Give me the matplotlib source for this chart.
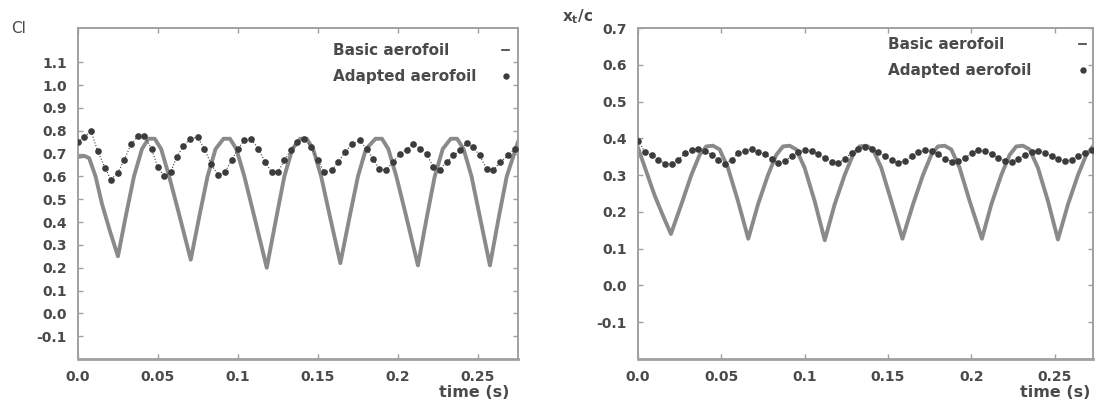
import matplotlib
matplotlib.use("Agg")
import matplotlib.pyplot as plt
from matplotlib.lines import Line2D

# ---------------- data ----------------
# Left panel: lift coefficient Cl
cl_basic_t = [0.000, 0.004, 0.007, 0.011, 0.015, 0.020, 0.025, 0.030, 0.035, 0.040, 0.044, 0.048,
              0.052, 0.057, 0.063, 0.0705, 0.076, 0.081, 0.086, 0.091, 0.095, 0.099, 0.104, 0.110,
              0.118, 0.124, 0.129, 0.134, 0.139, 0.143, 0.147, 0.152, 0.157, 0.164, 0.170, 0.175,
              0.180, 0.186, 0.190, 0.194, 0.199, 0.205, 0.2125, 0.218, 0.223, 0.228, 0.233, 0.237,
              0.241, 0.246, 0.251, 0.2575, 0.263, 0.268, 0.275]
cl_basic_v = [0.685, 0.69, 0.68, 0.60, 0.48, 0.36, 0.25, 0.43, 0.60, 0.72, 0.765, 0.765,
              0.72, 0.60, 0.44, 0.235, 0.43, 0.60, 0.72, 0.765, 0.765, 0.72, 0.60, 0.43,
              0.20, 0.42, 0.60, 0.72, 0.765, 0.765, 0.72, 0.60, 0.44, 0.22, 0.43, 0.60,
              0.72, 0.765, 0.765, 0.72, 0.60, 0.43, 0.21, 0.42, 0.60, 0.72, 0.765, 0.765,
              0.72, 0.60, 0.43, 0.21, 0.42, 0.60, 0.75]

cl_adapt_t = [0.000, 0.004, 0.0081, 0.0123, 0.0169, 0.0206, 0.0248, 0.029, 0.0331, 0.0373, 0.0415,
              0.046, 0.0498, 0.054, 0.058, 0.0617, 0.0658, 0.070, 0.0748, 0.079, 0.0831, 0.0877,
              0.0919, 0.096, 0.100, 0.104, 0.108, 0.1127, 0.117, 0.121, 0.125, 0.129, 0.133,
              0.137, 0.1415, 0.1456, 0.1498, 0.154, 0.1585, 0.1627, 0.1669, 0.1715, 0.176,
              0.1804, 0.1846, 0.188, 0.1923, 0.197, 0.2013, 0.2054, 0.2096, 0.2138, 0.218,
              0.222, 0.226, 0.2304, 0.2346, 0.239, 0.243, 0.247, 0.251, 0.2554, 0.2596,
              0.2638, 0.269, 0.273]
cl_adapt_v = [0.75, 0.772, 0.80, 0.711, 0.638, 0.586, 0.615, 0.673, 0.74, 0.775, 0.775,
              0.721, 0.641, 0.60, 0.619, 0.685, 0.731, 0.765, 0.772, 0.721, 0.656, 0.604,
              0.619, 0.67, 0.721, 0.758, 0.765, 0.721, 0.663, 0.619, 0.619, 0.67, 0.714,
              0.75, 0.765, 0.729, 0.673, 0.619, 0.626, 0.663, 0.707, 0.743, 0.758,
              0.721, 0.677, 0.634, 0.626, 0.663, 0.70, 0.717, 0.743, 0.721, 0.70,
              0.641, 0.629, 0.663, 0.692, 0.714, 0.748, 0.729, 0.692, 0.634, 0.626,
              0.663, 0.692, 0.721]

# Right panel: transition location x_t/c
xt_basic_t = [0.000, 0.005, 0.010, 0.015, 0.0198, 0.026, 0.032, 0.037, 0.041, 0.045, 0.049, 0.054,
              0.060, 0.0662, 0.072, 0.078, 0.083, 0.087, 0.091, 0.095, 0.100, 0.106, 0.1121,
              0.118, 0.124, 0.129, 0.133, 0.137, 0.141, 0.146, 0.152, 0.1587, 0.165, 0.171,
              0.176, 0.180, 0.184, 0.188, 0.193, 0.199, 0.2064, 0.212, 0.218, 0.223, 0.227,
              0.231, 0.235, 0.240, 0.246, 0.252, 0.258, 0.264, 0.269, 0.273]
xt_basic_v = [0.375, 0.31, 0.245, 0.19, 0.14, 0.22, 0.30, 0.355, 0.378, 0.38, 0.37, 0.32,
              0.23, 0.127, 0.22, 0.30, 0.355, 0.378, 0.38, 0.37, 0.32, 0.23, 0.123,
              0.22, 0.30, 0.355, 0.378, 0.38, 0.37, 0.32, 0.23, 0.127, 0.22, 0.30,
              0.355, 0.378, 0.38, 0.37, 0.32, 0.23, 0.127, 0.22, 0.30, 0.355, 0.378,
              0.38, 0.37, 0.32, 0.23, 0.125, 0.22, 0.30, 0.355, 0.378]

xt_adapt_t = [0.0002, 0.0042, 0.0082, 0.0122, 0.0162, 0.0202, 0.0242, 0.0282, 0.0322, 0.0362,
              0.0402, 0.0442, 0.0482, 0.0522, 0.0562, 0.0602, 0.0642, 0.0682, 0.0722, 0.0762,
              0.0802, 0.0842, 0.0882, 0.0922, 0.0962, 0.1002, 0.1042, 0.1082, 0.1122, 0.1162,
              0.1202, 0.1242, 0.1282, 0.1322, 0.1362, 0.1402, 0.1442, 0.1482, 0.1522, 0.1562,
              0.1602, 0.1642, 0.1682, 0.1722, 0.1762, 0.1802, 0.1842, 0.1882, 0.1922, 0.1962,
              0.2002, 0.2042, 0.2082, 0.2122, 0.2162, 0.2202, 0.2242, 0.2282, 0.2322, 0.2362,
              0.2402, 0.2442, 0.2482, 0.2522, 0.2562, 0.2602, 0.2642, 0.2682, 0.2722]
xt_adapt_v = [0.393, 0.363, 0.354, 0.342, 0.331, 0.331, 0.342, 0.359, 0.369, 0.371,
              0.366, 0.355, 0.342, 0.331, 0.342, 0.359, 0.366, 0.370, 0.363, 0.357,
              0.345, 0.333, 0.338, 0.352, 0.364, 0.368, 0.365, 0.357, 0.347, 0.337,
              0.333, 0.344, 0.361, 0.371, 0.376, 0.371, 0.363, 0.352, 0.340, 0.334,
              0.339, 0.351, 0.362, 0.367, 0.365, 0.357, 0.345, 0.337, 0.338, 0.347,
              0.360, 0.367, 0.365, 0.357, 0.347, 0.339, 0.337, 0.344, 0.355, 0.364,
              0.366, 0.361, 0.352, 0.343, 0.338, 0.342, 0.351, 0.361, 0.368]

x_ticks = [0.0, 0.05, 0.1, 0.15, 0.2, 0.25]
x_tick_labels = ["0.0", "0.05", "0.1", "0.15", "0.2", "0.25"]
cl_yticks = [-0.1, 0.0, 0.1, 0.2, 0.3, 0.4, 0.5, 0.6, 0.7, 0.8, 0.9, 1.0, 1.1]
cl_ytick_labels = ["-0.1", "0.0", "0.1", "0.2", "0.3", "0.4", "0.5", "0.6", "0.7", "0.8", "0.9", "1.0", "1.1"]
xt_yticks = [-0.1, 0.0, 0.1, 0.2, 0.3, 0.4, 0.5, 0.6, 0.7]
xt_ytick_labels = ["-0.1", "0.0", "0.1", "0.2", "0.3", "0.4", "0.5", "0.6", "0.7"]
legend_labels = ["Basic aerofoil", "Adapted aerofoil"]

# ---------------- style ----------------
LINE_C = "#8a8a8a"
DOT_C = "#3c3c3c"
TEXT_C = "#4a4a4a"
SPINE_C = "#a0a0a0"

fig = plt.figure(figsize=(10.95, 4.01), dpi=100)
fig.patch.set_facecolor("white")

ax1 = fig.add_axes([0.0712, 0.1047, 0.4018, 0.8254])
ax2 = fig.add_axes([0.5826, 0.1047, 0.4155, 0.8254])


def style_axes(ax, xlim, ylim, yticks, ylabels):
    ax.set_xlim(*xlim)
    ax.set_ylim(*ylim)
    ax.set_xticks(x_ticks)
    ax.set_xticklabels(x_tick_labels)
    ax.set_yticks(yticks)
    ax.set_yticklabels(ylabels)
    for s in ax.spines.values():
        s.set_color(SPINE_C)
        s.set_linewidth(1.4)
    ax.spines["bottom"].set_linewidth(2.0)
    ax.tick_params(direction="in", length=3.5, width=1.0, color=SPINE_C,
                   top=True, right=True, labelsize=10, labelcolor=TEXT_C, pad=8)
    for lab in ax.get_xticklabels() + ax.get_yticklabels():
        lab.set_fontweight("bold")


# Left panel
ax1.plot(cl_basic_t, cl_basic_v, color=LINE_C, lw=2.8, solid_joinstyle="round", zorder=2)
ax1.plot(cl_adapt_t, cl_adapt_v, color=DOT_C, lw=0.8, ls=":", marker="o", ms=4.8,
         markeredgewidth=0, zorder=3)
style_axes(ax1, (0.0, 0.275), (-0.2, 1.25), cl_yticks, cl_ytick_labels)

# Right panel
ax2.plot(xt_basic_t, xt_basic_v, color=LINE_C, lw=2.8, solid_joinstyle="round", zorder=2)
ax2.plot(xt_adapt_t, xt_adapt_v, color=DOT_C, lw=0.8, ls=":", marker="o", ms=4.8,
         markeredgewidth=0, zorder=3)
style_axes(ax2, (0.0, 0.273), (-0.2, 0.7), xt_yticks, xt_ytick_labels)

# Legends: labels left-aligned, markers in a column on the right
handles = [Line2D([], [], color=DOT_C, lw=1.2),
           Line2D([], [], color=DOT_C, lw=0, marker="o", ms=4.6, markeredgewidth=0)]
for ax, anchor, row_w in ((ax1, (333 / 1095, 1 - 43 / 401), 176),
                          (ax2, (888 / 1095, 1 - 37 / 401), 198)):
    leg = ax.legend(handles, legend_labels, loc="upper left", bbox_to_anchor=anchor,
                    bbox_transform=fig.transFigure,
                    frameon=False, markerfirst=False, handlelength=0.45, handletextpad=1.0,
                    labelspacing=0.72, borderaxespad=0.0, borderpad=0.0,
                    prop={"weight": "bold", "size": 11})
    for col in leg._legend_handle_box.get_children():
        col.align = "left"
        for row in col.get_children():
            row.mode = "expand"
            row.width = row_w
    for t in leg.get_texts():
        t.set_color(TEXT_C)

# Axis titles
fig.text(0.0174, 0.928, "Cl", fontsize=11, color=TEXT_C, ha="center", va="center")
fig.text(0.527, 0.958, r"$\mathbf{x_t/c}$", fontsize=11, color=TEXT_C, ha="center", va="center")
fig.text(0.433, 0.022, "time (s)", fontsize=11.5, color=TEXT_C, ha="center", va="center",
         fontweight="bold")
fig.text(0.964, 0.022, "time (s)", fontsize=11.5, color=TEXT_C, ha="center", va="center",
         fontweight="bold")

fig.savefig("out.png", dpi=100, facecolor="white")
